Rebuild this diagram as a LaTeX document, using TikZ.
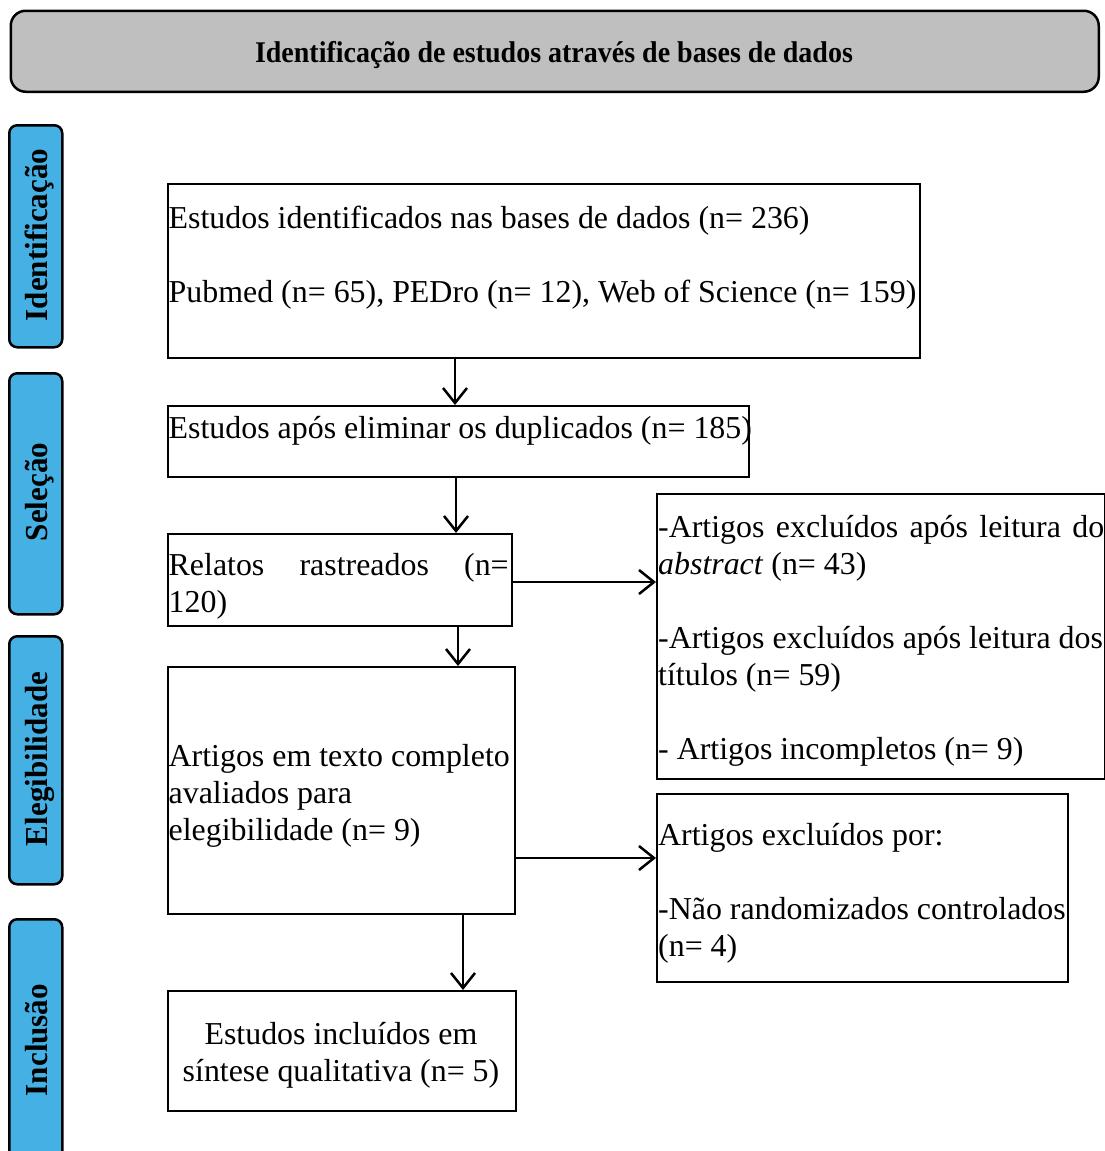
\documentclass[tikz,border=0pt]{standalone}
\usepackage{fontspec}
\setmainfont{Liberation Serif}
\usetikzlibrary{arrows.meta}
\definecolor{bannergray}{RGB}{191,191,191}
\definecolor{phaseblue}{RGB}{69,176,227}
\tikzset{
  box/.style={draw=black, line width=2pt, inner sep=0pt, anchor=north west, rectangle},
  phase/.style={draw=black, line width=2.5pt, fill=phaseblue, rounded corners=8pt, inner sep=0pt, anchor=north west, rectangle},
  txt/.style={anchor=base west, inner sep=0pt, font=\fontsize{31.9}{37}\selectfont},
  arr/.style={line width=2.5pt, -{Straight Barb[length=15pt,width=24pt,line width=2.5pt]}},
  phasetxt/.style={rotate=90, anchor=base, inner sep=0pt, font=\fontsize{32}{37}\selectfont\bfseries},
}
\begin{document}
\begin{tikzpicture}[x=1pt,y=-1pt]
\useasboundingbox (0,0) rectangle (1105,1151);
\clip (0,0) rectangle (1105,1151);
% banner
\node[draw=black, line width=2.5pt, fill=bannergray, rounded corners=15pt, anchor=north west, minimum width=1088pt, minimum height=81pt, inner sep=0pt] (banner) at (9.5,9.5) {};
\node[anchor=base, inner sep=0pt, font=\fontsize{30}{36}\selectfont\bfseries] (bannertxt) at (554,62) {\scalebox{0.933}[1]{Identificação de estudos através de bases de dados}};
% phase boxes
\node[phase, minimum width=53pt, minimum height=222pt] (p1) at (8,124) {};
\node[phase, minimum width=53pt, minimum height=241pt] (p2) at (8,372) {};
\node[phase, minimum width=53pt, minimum height=248pt] (p3) at (8,635) {};
\node[phase, minimum width=53pt, minimum height=250pt] (p4) at (8,918) {};
\node[phasetxt] (p1t) at (47,235) {\scalebox{0.97}[1]{Identificação}};
\node[phasetxt] (p2t) at (47,492) {\scalebox{0.97}[1]{Seleção}};
\node[phasetxt] (p3t) at (47,759) {\scalebox{0.97}[1]{Elegibilidade}};
\node[phasetxt] (p4t) at (47,1040) {\scalebox{0.97}[1]{Inclusão}};
% boxes
\node[box, minimum width=752pt, minimum height=174pt] (b1) at (167,183) {};
\node[box, minimum width=581pt, minimum height=71pt] (b2) at (167,405) {};
\node[box, minimum width=344pt, minimum height=92pt] (b3) at (167,533) {};
\node[box, minimum width=448pt, minimum height=285pt] (r1) at (656,493) {};
\node[box, minimum width=347pt, minimum height=247pt] (b4) at (167,666) {};
\node[box, minimum width=411pt, minimum height=188pt] (r2) at (656,793) {};
\node[box, minimum width=348pt, minimum height=120pt] (b5) at (167,990) {};
% texts
\node[txt] (t1) at (168.5,228) {\parbox[t]{760pt}{Estudos identificados nas bases de dados (n= 236)\\[37pt]Pubmed (n= 65), PEDro (n= 12), Web of Science (n= 159)}};
\node[txt] (t2) at (168.5,438) {Estudos após eliminar os duplicados (n= 185)};
\node[txt] (t3) at (168.5,575) {\parbox[t]{340pt}{\makebox[340pt][s]{Relatos rastreados (n=}\\120)}};
\node[txt] (tr1) at (658,537) {\parbox[t]{460pt}{\makebox[446pt][s]{-Artigos excluídos após leitura do}\\\textit{abstract} (n= 43)\\[37pt]-Artigos excluídos após leitura dos\\títulos (n= 59)\\[37pt]- Artigos incompletos (n= 9)}};
\node[txt] (t4) at (168.5,766) {\parbox[t]{350pt}{Artigos em texto completo\\avaliados para\\elegibilidade (n= 9)}};
\node[txt] (tr2) at (658,845) {\parbox[t]{420pt}{Artigos excluídos por:\\[37pt]-Não randomizados controlados\\(n= 4)}};
\node[txt, anchor=base] (t5) at (341,1044) {\parbox[t]{340pt}{\centering Estudos incluídos em\\síntese qualitativa (n= 5)}};
% connectors
\coordinate (x1) at (455,0);
\coordinate (x2) at (456,0);
\coordinate (x3) at (458,0);
\coordinate (x4) at (463,0);
\coordinate (y1) at (0,582);
\coordinate (y2) at (0,858);
\draw[arr] (b1.south -| x1) -- (b2.north -| x1);
\draw[arr] (b2.south -| x2) -- (b3.north -| x2);
\draw[arr] (b3.south -| x3) -- (b4.north -| x3);
\draw[arr] (b4.south -| x4) -- (b5.north -| x4);
\draw[arr] (b3.east |- y1) -- (r1.west |- y1);
\draw[arr] (b4.east |- y2) -- (r2.west |- y2);
\end{tikzpicture}
\end{document}
